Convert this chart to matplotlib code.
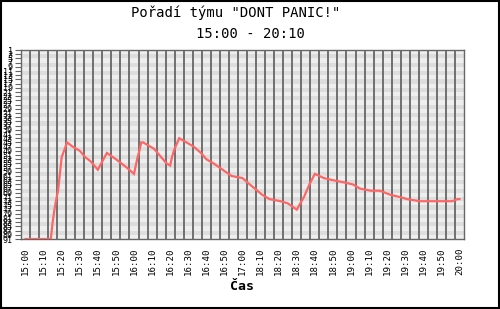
import matplotlib
matplotlib.use("Agg")
import matplotlib.pyplot as plt
from matplotlib.patches import Rectangle

# sample index (one step per tick-slot) and team rank
idx = [0, 14, 15, 16, 17, 18, 19, 20, 23, 26, 30, 33, 36, 40, 45, 50, 56, 60,
       62, 63, 64, 65, 67, 71, 74, 78, 80, 81, 82, 84, 85, 89, 93, 97, 100, 104,
       109, 114, 120, 124, 131, 135, 141, 145, 150, 154, 157, 160, 165, 170,
       176, 181, 185, 191, 196, 202, 207, 211, 218, 226, 236, 239, 240]
rank = [91, 91, 83, 77, 72, 68, 60, 52, 45, 47, 49, 52, 54, 58, 50, 53, 57, 60,
        52, 49, 45, 45, 46, 48, 51, 55, 56, 52, 49, 45, 43, 45, 47, 50, 53, 55,
        58, 61, 62, 65, 70, 72, 73, 74, 77, 71, 65, 60, 62, 63, 64, 65, 67, 68,
        68, 70, 71, 72, 73, 73, 73, 72, 72]

tick_labels = ["15:00", "15:10", "15:20", "15:30", "15:40", "15:50", "16:00",
               "16:10", "16:20", "16:30", "16:40", "16:50", "17:00", "18:10",
               "18:20", "18:30", "18:40", "18:50", "19:00", "19:10", "19:20",
               "19:30", "19:40", "19:50", "20:00"]
rank_ticks = list(range(1, 92, 2))

title = 'Pořadí týmu "DONT PANIC!"'
subtitle = "15:00 - 20:10"

mono = ["DejaVu Sans Mono"]

fig = plt.figure(figsize=(5.0, 3.09), dpi=100)
fig.patch.set_facecolor("white")
ax = fig.add_axes([21 / 500, 1 - 239 / 309, 443 / 500, 189 / 309])

ax.set_xlim(-2.5, 242.5)
ax.set_ylim(rank_ticks[-1], rank_ticks[0])

# alternating horizontal bands
for i in range(len(rank_ticks) - 1):
    c = "#eeeeee" if i % 2 == 0 else "#dddddd"
    ax.axhspan(rank_ticks[i], rank_ticks[i + 1], color=c, lw=0, zorder=0)

# vertical grid every half label step
for k in range(1, 49):
    ax.axvline(-2.5 + 5 * k, color="#666666", lw=1.3, zorder=1)

ax.plot(idx, rank, color="#ff6666", lw=1.6, zorder=3, solid_joinstyle="miter")

ax.set_xticks(range(0, 241, 10))
ax.set_xticklabels(tick_labels, rotation=90, fontsize=6.6, family=mono)
ax.tick_params(axis="x", length=0, pad=6)

ax.set_yticks(rank_ticks)
ax.set_yticklabels([str(r) for r in rank_ticks], fontsize=6, family=mono)
ax.tick_params(axis="y", length=4, color="#666666", pad=2, width=0.8)

for s in ax.spines.values():
    s.set_color("#666666")
    s.set_linewidth(1.0)

fig.text(236 / 500, 1 - 13 / 309, title, ha="center", va="center",
         fontsize=10, family=mono)
fig.text(250 / 500, 1 - 33.5 / 309, subtitle, ha="center", va="center",
         fontsize=10, family=mono)
fig.text(242 / 500, 1 - 286 / 309, "Čas", ha="center", va="center",
         fontsize=9.5, family=mono, weight="bold")

fig.patches.append(Rectangle((0.001, 0.002), 0.996, 0.995, transform=fig.transFigure,
                             fill=False, edgecolor="black", lw=1.5))

fig.savefig("out.png", dpi=100)
